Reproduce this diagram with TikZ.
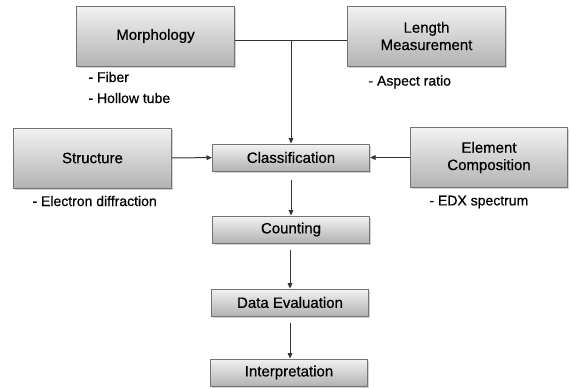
\documentclass[tikz,border=0pt]{standalone}
\usepackage{fontspec}
\setmainfont{Liberation Sans}[FakeBold=0.6]
\usetikzlibrary{arrows.meta,shadows,calc}

\tikzset{every picture/.style={line width=0.75pt}}
\tikzset{
  stagebox/.style={draw=black!55, top color=black!5, bottom color=black!30,
    drop shadow={shadow xshift=1.2pt, shadow yshift=-1.2pt, opacity=0.35},
    minimum width=118pt, align=center, font=\fontsize{11.25}{13}\selectfont, inner sep=0pt},
  bigbox/.style={stagebox, minimum height=45pt},
  flatbox/.style={stagebox, minimum height=20.25pt},
  note/.style={anchor=west, inner sep=0.75pt, font=\fontsize{10.5}{12}\selectfont},
  flow/.style={draw=black!80, -{Triangle[length=4pt,width=3.5pt]}}
}

\begin{document}
\begin{tikzpicture}[x=0.75pt,y=0.75pt,yscale=-1,xscale=1]
\useasboundingbox (0,0) rectangle (571,387);

%Shape: Rectangle [id:morph] 
\node [bigbox] (morph) at (155.5,36) {Morphology};
%Shape: Rectangle [id:length] 
\node [bigbox] (length) at (426.5,36) {Length\\Measurement};
%Shape: Rectangle [id:struct] 
\node [bigbox] (struct) at (92.5,158) {Structure};
%Shape: Rectangle [id:elem] 
\node [bigbox] (elem) at (489,157.5) {Element\\Composition};
%Shape: Rectangle [id:class] 
\node [flatbox] (class) at (291,157.5) {Classification};
%Shape: Rectangle [id:count] 
\node [flatbox] (count) at (291,229.5) {Counting};
%Shape: Rectangle [id:data] 
\node [flatbox] (data) at (290,302.5) {Data Evaluation};
%Shape: Rectangle [id:interp] 
\node [flatbox] (interp) at (289,372.5) {Interpretation};

% Text Node
\node [note] (fiber) at (87,77) {- Fiber};
% Text Node
\node [note] (hollow) at (87,98) {- Hollow tube};
% Text Node
\node [note] (aspect) at (367,82) {- Aspect ratio};
% Text Node
\node [note] (diffr) at (31,201) {- Electron diffraction};
% Text Node
\node [note] (edx) at (428,202) {- EDX spectrum};

%Straight Lines
\draw [draw=black!80] ([yshift=3pt]morph.east) -- ([yshift=3pt]length.west);
\coordinate (junc) at ($([yshift=3pt]morph.east)!0.5!([yshift=3pt]length.west)$);
\draw [flow] (junc) -- (junc |- class.north);
\draw [flow] (struct) -- (class);
\draw [flow] (elem) -- (class);
\draw [flow, shorten <=6pt] (class.south -| junc) -- (junc |- count.north);
\draw [flow, shorten <=4.5pt] (count.south -| data) -- (data.north);
\draw [flow, shorten <=4.5pt] (data.south) -- (data.south |- interp.north);

\end{tikzpicture}
\end{document}
